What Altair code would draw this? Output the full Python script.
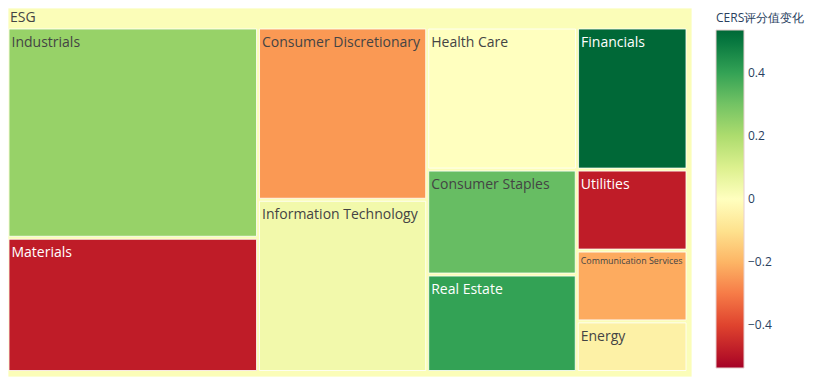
import altair as alt
import pandas as pd

# ---- data ----
root_label = "ESG"
sectors = ["Industrials", "Materials", "Consumer Discretionary", "Information Technology",
           "Health Care", "Financials", "Consumer Staples", "Real Estate",
           "Utilities", "Communication Services", "Energy"]
counts = [47, 30, 26, 26, 19, 14, 14, 13, 8, 7, 5]
cers_change = [0.24, -0.48, -0.25, 0.04, 0.0, 0.535, 0.32, 0.40, -0.48, -0.22, -0.05]
legend_values = [0.4, 0.2, 0, -0.2, -0.4]
rdylgn = ["#a50026", "#d73027", "#f46d43", "#fdae61", "#fee08b", "#ffffbf",
          "#d9ef8b", "#a6d96a", "#66bd63", "#1a9850", "#006837"]

# ---- squarified treemap layout (computed from the values) ----
PW, PH = 797.0, 370.0        # whole drawing area
W, H = 684.0, 369.0          # root box
PAD_L, PAD_T, PAD_R, PAD_B = -0.5, 19.5, 4.5, 5.0
GAP = 1.5


def worst(row, side):
    s = sum(row)
    return max(max(side * side * a / (s * s), s * s / (side * side * a)) for a in row)


def squarify(vals, x, y, w, h):
    total = sum(vals)
    areas = [v * w * h / total for v in vals]
    out = []
    i = 0
    while i < len(areas):
        side = min(w, h)
        row = [areas[i]]
        j = i + 1
        while j < len(areas) and worst(row + [areas[j]], side) <= worst(row, side):
            row.append(areas[j])
            j += 1
        s = sum(row)
        if w >= h:
            cw = s / h
            yy = y
            for a in row:
                hh = a / cw
                out.append((x, yy, x + cw, yy + hh))
                yy += hh
            x += cw
            w -= cw
        else:
            rh = s / w
            xx = x
            for a in row:
                ww = a / rh
                out.append((xx, y, xx + ww, y + rh))
                xx += ww
            y += rh
            h -= rh
        i = j
    return out


order = sorted(range(len(sectors)), key=lambda k: -counts[k])
rects = squarify([counts[k] for k in order], PAD_L, PAD_T, W - PAD_L - PAD_R, H - PAD_T - PAD_B)

root_v = sum(c * v for c, v in zip(counts, cers_change)) / sum(counts)
rows = [dict(label=root_label, v=root_v, x0=0.0, y0=0.0, x1=W, y1=H,
             tx=2.0, ty=14.0, fs=14.0)]
for k, (x0, y0, x1, y1) in zip(order, rects):
    x0, y0, x1, y1 = x0 + GAP, y0 + GAP, x1 - GAP, y1 - GAP
    fs = min(14.0, (x1 - x0 - 6) / (0.52 * len(sectors[k])))
    rows.append(dict(label=sectors[k], v=cers_change[k], x0=x0, y0=y0, x1=x1, y1=y1,
                     tx=x0 + 2.5, ty=y0 + 1.29 * fs, fs=fs))
df = pd.DataFrame(rows)

cmax = max(abs(v) for v in cers_change)
cdomain = [-cmax + 2 * cmax * i / 10 for i in range(11)]

xs = alt.Scale(domain=[0, PW], nice=False, zero=False)
ys = alt.Scale(domain=[PH, 0], nice=False, zero=False)

base = alt.Chart(df)
tiles = base.mark_rect(stroke="white", strokeWidth=1, strokeOpacity=0.8).encode(
    x=alt.X("x0:Q", scale=xs, axis=None),
    x2="x1:Q",
    y=alt.Y("y0:Q", scale=ys, axis=None),
    y2="y1:Q",
    color=alt.Color(
        "v:Q",
        scale=alt.Scale(domain=cdomain, range=rdylgn),
        legend=alt.Legend(
            title="CERS评分值变化", orient="none", legendX=708, legendY=5,
            gradientLength=338, gradientThickness=28, direction="vertical",
            values=legend_values, format="~g", labelFontSize=12,
            labelColor="#2a3f5f", titleColor="#2a3f5f", titleFontSize=12,
            titleFontWeight="normal", titlePadding=5, labelOffset=4,
            gradientStrokeColor="#e8d0d0", gradientStrokeWidth=1,
            labelFont="Open Sans", titleFont="Open Sans", padding=0,
        ),
    ),
)
labels = base.mark_text(align="left", baseline="alphabetic", font="Open Sans").encode(
    x=alt.X("tx:Q", scale=xs, axis=None),
    y=alt.Y("ty:Q", scale=ys, axis=None),
    text="label:N",
    size=alt.Size("fs:Q", scale=None, legend=None),
    color=alt.condition("datum.v > 0.36 || datum.v < -0.36", alt.value("white"), alt.value("#444444")),
)

chart = alt.layer(tiles, labels).properties(
    width=PW, height=PH,
    padding=0,
    autosize=alt.AutoSizeParams(type="none"),
    background="white",
).configure_view(stroke=None)

chart.save("out.html", embed_options={"renderer": "svg", "actions": False})
